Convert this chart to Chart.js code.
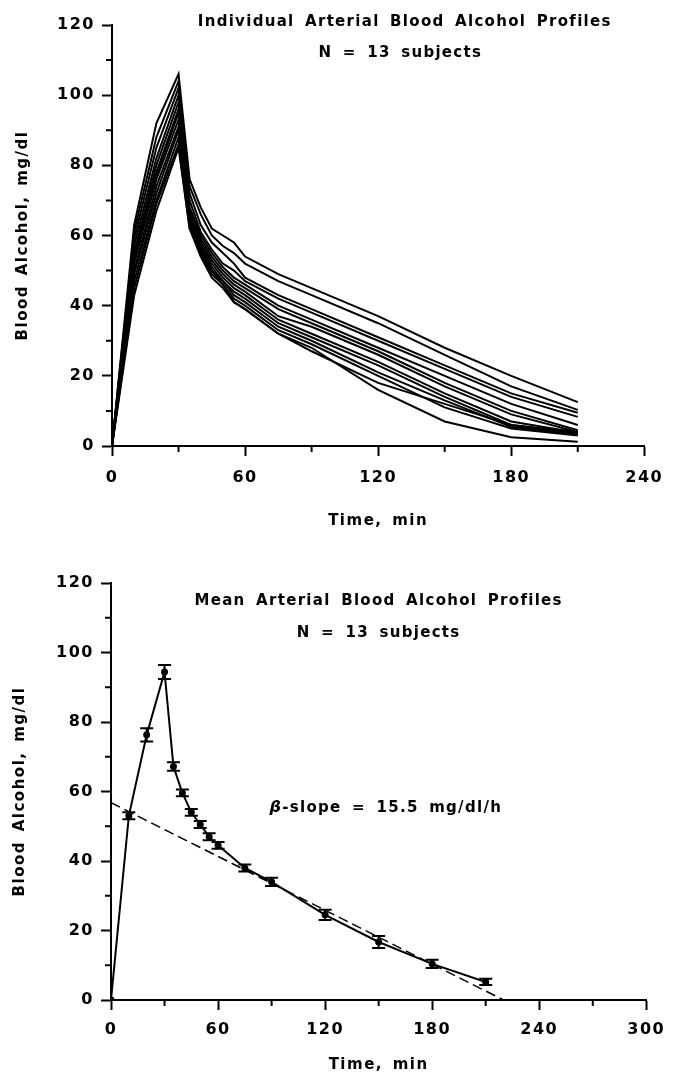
<!DOCTYPE html>
<html><head><meta charset="utf-8">
<script src="https://cdn.jsdelivr.net/npm/chart.js@4"></script>
<style>
html,body{margin:0;padding:0;background:#fff;}
#wrap{width:673px;height:1082px;position:relative;overflow:hidden;}
canvas{position:absolute;left:0;display:block;}
</style></head><body>
<div id="wrap">
<canvas id="topChart" width="673" height="545" style="top:0"></canvas>
<canvas id="botChart" width="673" height="537" style="top:545px"></canvas>
</div>
<script>
// ---------- DATA ----------
const TIMES = [0,10,20,30,35,40,45,50,55,60,75,90,120,150,180,210];
const SUBJECT_01 = [0,63,92,106,76,68,62,60,58,54,49,45,37,28,20,12.5];
const SUBJECT_02 = [0,61,88,104,74,66,60,57,55,52,47,43,35,26,17,10.3];
const SUBJECT_03 = [0,59,85,102,72,63,58,55,52,48,43,39,31,23,15,9.5];
const SUBJECT_04 = [0,57,82,100,70,61,56,52,50,47,42,38,30,22,14,8.3];
const SUBJECT_05 = [0,55,80,98,68,60,55,51,48,46,40,36,28,20,12,6];
const SUBJECT_06 = [0,54,78,96,67,59,54,50,47,45,39,35,27,18,10,4.5];
const SUBJECT_07 = [0,53,77,95,66,58,53,49,46,44,37,34,26,17,9,4];
const SUBJECT_08 = [0,52,76,93,65,58,52,48,45,43,36,32,24,15,7,3.8];
const SUBJECT_09 = [0,50,74,91,65,57,51,47,44,42,35,31,23,14,6,3.5];
const SUBJECT_10 = [0,49,72,90,64,56,50,47,43,41,34,30,21,13,5.5,3.2];
const SUBJECT_11 = [0,47,70,88,63,56,50,46,42,40,33,29,20,11,5,3];
const SUBJECT_12 = [0,45,69,86,62,55,49,46,41,39,32,28,16,7,2.5,1.2];
const SUBJECT_13 = [0,43,67,85,62,54,48,45,41,39,32,27,18,12,6,4];
const SUBJECTS = [SUBJECT_01,SUBJECT_02,SUBJECT_03,SUBJECT_04,SUBJECT_05,SUBJECT_06,SUBJECT_07,
                  SUBJECT_08,SUBJECT_09,SUBJECT_10,SUBJECT_11,SUBJECT_12,SUBJECT_13];

const MEAN_BAC = [0,53,76.3,94.4,67.2,59.6,54,50.5,47,44.5,38,34,24.5,16.7,10.4,5.2];
const SEM_BAC  = [0,1,1.9,2,1.2,1,1,1,1,1,1,1.2,1.5,1.7,1.2,0.9];
const REG_TIMES = [0,220];
const REG_BAC   = [56.8,0];

const TOP_X_TICKS = [0,60,120,180,240];
const TOP_X_MINOR = [30,90,150,210];
const BOT_X_TICKS = [0,60,120,180,240,300];
const BOT_X_MINOR = [30,90,150,210,270];
const Y_TICKS = [0,20,40,60,80,100,120];
const Y_MINOR = [10,30,50,70,90,110];

const TOP_TITLE_1 = 'Individual Arterial Blood Alcohol Profiles';
const TOP_TITLE_2 = 'N = 13 subjects';
const BOT_TITLE_1 = 'Mean Arterial Blood Alcohol Profiles';
const BOT_TITLE_2 = 'N = 13 subjects';
const SLOPE_SYMBOL = 'β';
const SLOPE_TEXT = '-slope = 15.5 mg/dl/h';
const Y_TITLE = 'Blood Alcohol, mg/dl';
const X_TITLE = 'Time, min';

// ---------- HELPERS ----------
const FAMILY = "'DejaVu Sans', sans-serif";
Chart.defaults.font.family = FAMILY;
Chart.defaults.font.weight = 'bold';
Chart.defaults.color = '#000';

const spacingPlugin = {
  id: 'spacing',
  beforeDraw(chart){ chart.ctx.letterSpacing = '1.5px'; chart.ctx.wordSpacing = '3px'; }
};

const minorTickPlugin = {
  id: 'minorTicks',
  afterDraw(chart, args, opts){
    const {ctx, chartArea, scales:{x, y}} = chart;
    ctx.save();
    ctx.strokeStyle = '#000'; ctx.lineWidth = 2;
    ctx.beginPath();
    (opts.x||[]).forEach(v => { const px = x.getPixelForValue(v); ctx.moveTo(px, chartArea.bottom); ctx.lineTo(px, chartArea.bottom + 6); });
    (opts.y||[]).forEach(v => { const py = y.getPixelForValue(v); ctx.moveTo(chartArea.left - 6, py); ctx.lineTo(chartArea.left, py); });
    ctx.stroke();
    ctx.restore();
  }
};

const textPlugin = {
  id: 'annot',
  afterDraw(chart, args, opts){
    const {ctx, scales:{x, y}} = chart;
    ctx.save();
    ctx.fillStyle = '#000';
    ctx.textBaseline = 'middle';
    ctx.letterSpacing = '1.3px'; ctx.wordSpacing = '4px';
    (opts.items||[]).forEach(it => {
      const cx = x.getPixelForValue(it.x), cy = y.getPixelForValue(it.y);
      if (it.symbol) {
        const fs = "italic bold 16px " + FAMILY, fr = "bold 15px " + FAMILY;
        ctx.font = fs; const w1 = ctx.measureText(it.symbol).width;
        ctx.font = fr; const w2 = ctx.measureText(it.text).width;
        let sx = cx - (w1 + w2)/2;
        ctx.textAlign = 'left';
        ctx.font = fs; ctx.fillText(it.symbol, sx, cy);
        ctx.font = fr; ctx.fillText(it.text, sx + w1, cy);
      } else {
        ctx.textAlign = 'center';
        ctx.font = "bold 15px " + FAMILY;
        ctx.fillText(it.text, cx, cy);
      }
    });
    ctx.restore();
  }
};

const errorBarPlugin = {
  id: 'errorBars',
  afterDatasetsDraw(chart, args, opts){
    if (!opts.mean) return;
    const {ctx, scales:{x, y}} = chart;
    ctx.save();
    ctx.strokeStyle = '#000'; ctx.lineWidth = 2;
    ctx.beginPath();
    opts.times.forEach((t, i) => {
      const e = opts.err[i]; if (!e) return;
      const px = x.getPixelForValue(t);
      const yt = y.getPixelForValue(opts.mean[i] + e), yb = y.getPixelForValue(opts.mean[i] - e);
      ctx.moveTo(px, yt); ctx.lineTo(px, yb);
      ctx.moveTo(px - 6.5, yt); ctx.lineTo(px + 6.5, yt);
      ctx.moveTo(px - 6.5, yb); ctx.lineTo(px + 6.5, yb);
    });
    ctx.stroke();
    ctx.restore();
  }
};

function axisCfg(ticksArr, min, max, isX, fitSize, tickPad, titleCfg){
  return {
    type: 'linear', min, max,
    afterBuildTicks: s => { s.ticks = ticksArr.map(v => ({value: v})); },
    afterFit: s => { if (isX) s.height = fitSize; else s.width = fitSize; },
    ticks: { font: {size: 16, weight: 'bold'}, color: '#000', padding: tickPad, maxRotation: 0, autoSkip: false },
    grid: { drawOnChartArea: false, drawTicks: true, tickLength: 10, tickColor: '#000', tickWidth: 2 },
    border: { display: true, color: '#000', width: 2 },
    title: titleCfg
  };
}

// ---------- TOP CHART ----------
const topDatasets = SUBJECTS.map(s => ({
  data: TIMES.map((t, i) => ({x: t, y: s[i]})),
  showLine: true, borderColor: '#000', borderWidth: 2, pointRadius: 0, fill: false, tension: 0
}));

new Chart(document.getElementById('topChart'), {
  type: 'scatter',
  data: { datasets: topDatasets },
  options: {
    responsive: false, animation: false, devicePixelRatio: 1,
    layout: { padding: { top: 25, right: 21, bottom: 0, left: 0 } },
    plugins: {
      legend: { display: false }, tooltip: { enabled: false },
      minorTicks: { x: TOP_X_MINOR, y: Y_MINOR },
      annot: { items: [ {x: 132, y: 120.7, text: TOP_TITLE_1}, {x: 130, y: 112.1, text: TOP_TITLE_2} ] }
    },
    scales: {
      x: axisCfg(TOP_X_TICKS, 0, 240, true, 99, 12,
           { display: true, text: X_TITLE, font: {size: 15, weight: 'bold'}, color: '#000', padding: {top: 0, bottom: 15} }),
      y: axisCfg(Y_TICKS, 0, 120, false, 112, 7,
           { display: true, text: Y_TITLE, font: {size: 15, weight: 'bold'}, color: '#000', padding: {top: 14, bottom: 0} })
    }
  },
  plugins: [spacingPlugin, minorTickPlugin, textPlugin]
});

// ---------- BOTTOM CHART ----------
new Chart(document.getElementById('botChart'), {
  type: 'scatter',
  data: { datasets: [
    { data: TIMES.map((t, i) => ({x: t, y: MEAN_BAC[i]})), showLine: true, borderColor: '#000', borderWidth: 2,
      pointRadius: 3.5, pointBackgroundColor: '#000', pointBorderColor: '#000', pointBorderWidth: 0, tension: 0 },
    { data: REG_TIMES.map((t, i) => ({x: t, y: REG_BAC[i]})), showLine: true, borderColor: '#000', borderWidth: 1.5,
      borderDash: [10, 5], pointRadius: 0, tension: 0 }
  ]},
  options: {
    responsive: false, animation: false, devicePixelRatio: 1,
    layout: { padding: { top: 38, right: 24, bottom: 0, left: 0 } },
    plugins: {
      legend: { display: false }, tooltip: { enabled: false },
      minorTicks: { x: BOT_X_MINOR, y: Y_MINOR },
      errorBars: { times: TIMES, mean: MEAN_BAC, err: SEM_BAC },
      annot: { items: [ {x: 150, y: 114.8, text: BOT_TITLE_1}, {x: 150, y: 105.6, text: BOT_TITLE_2},
                        {x: 154, y: 55.3, text: SLOPE_TEXT, symbol: SLOPE_SYMBOL} ] }
    },
    scales: {
      x: axisCfg(BOT_X_TICKS, 0, 300, true, 82, 10,
           { display: true, text: X_TITLE, font: {size: 15, weight: 'bold'}, color: '#000', padding: {top: 0, bottom: 8} }),
      y: axisCfg(Y_TICKS, 0, 120, false, 111, 7,
           { display: true, text: Y_TITLE, font: {size: 15, weight: 'bold'}, color: '#000', padding: {top: 11, bottom: 0} })
    }
  },
  plugins: [spacingPlugin, minorTickPlugin, textPlugin, errorBarPlugin]
});
</script>
</body></html>
